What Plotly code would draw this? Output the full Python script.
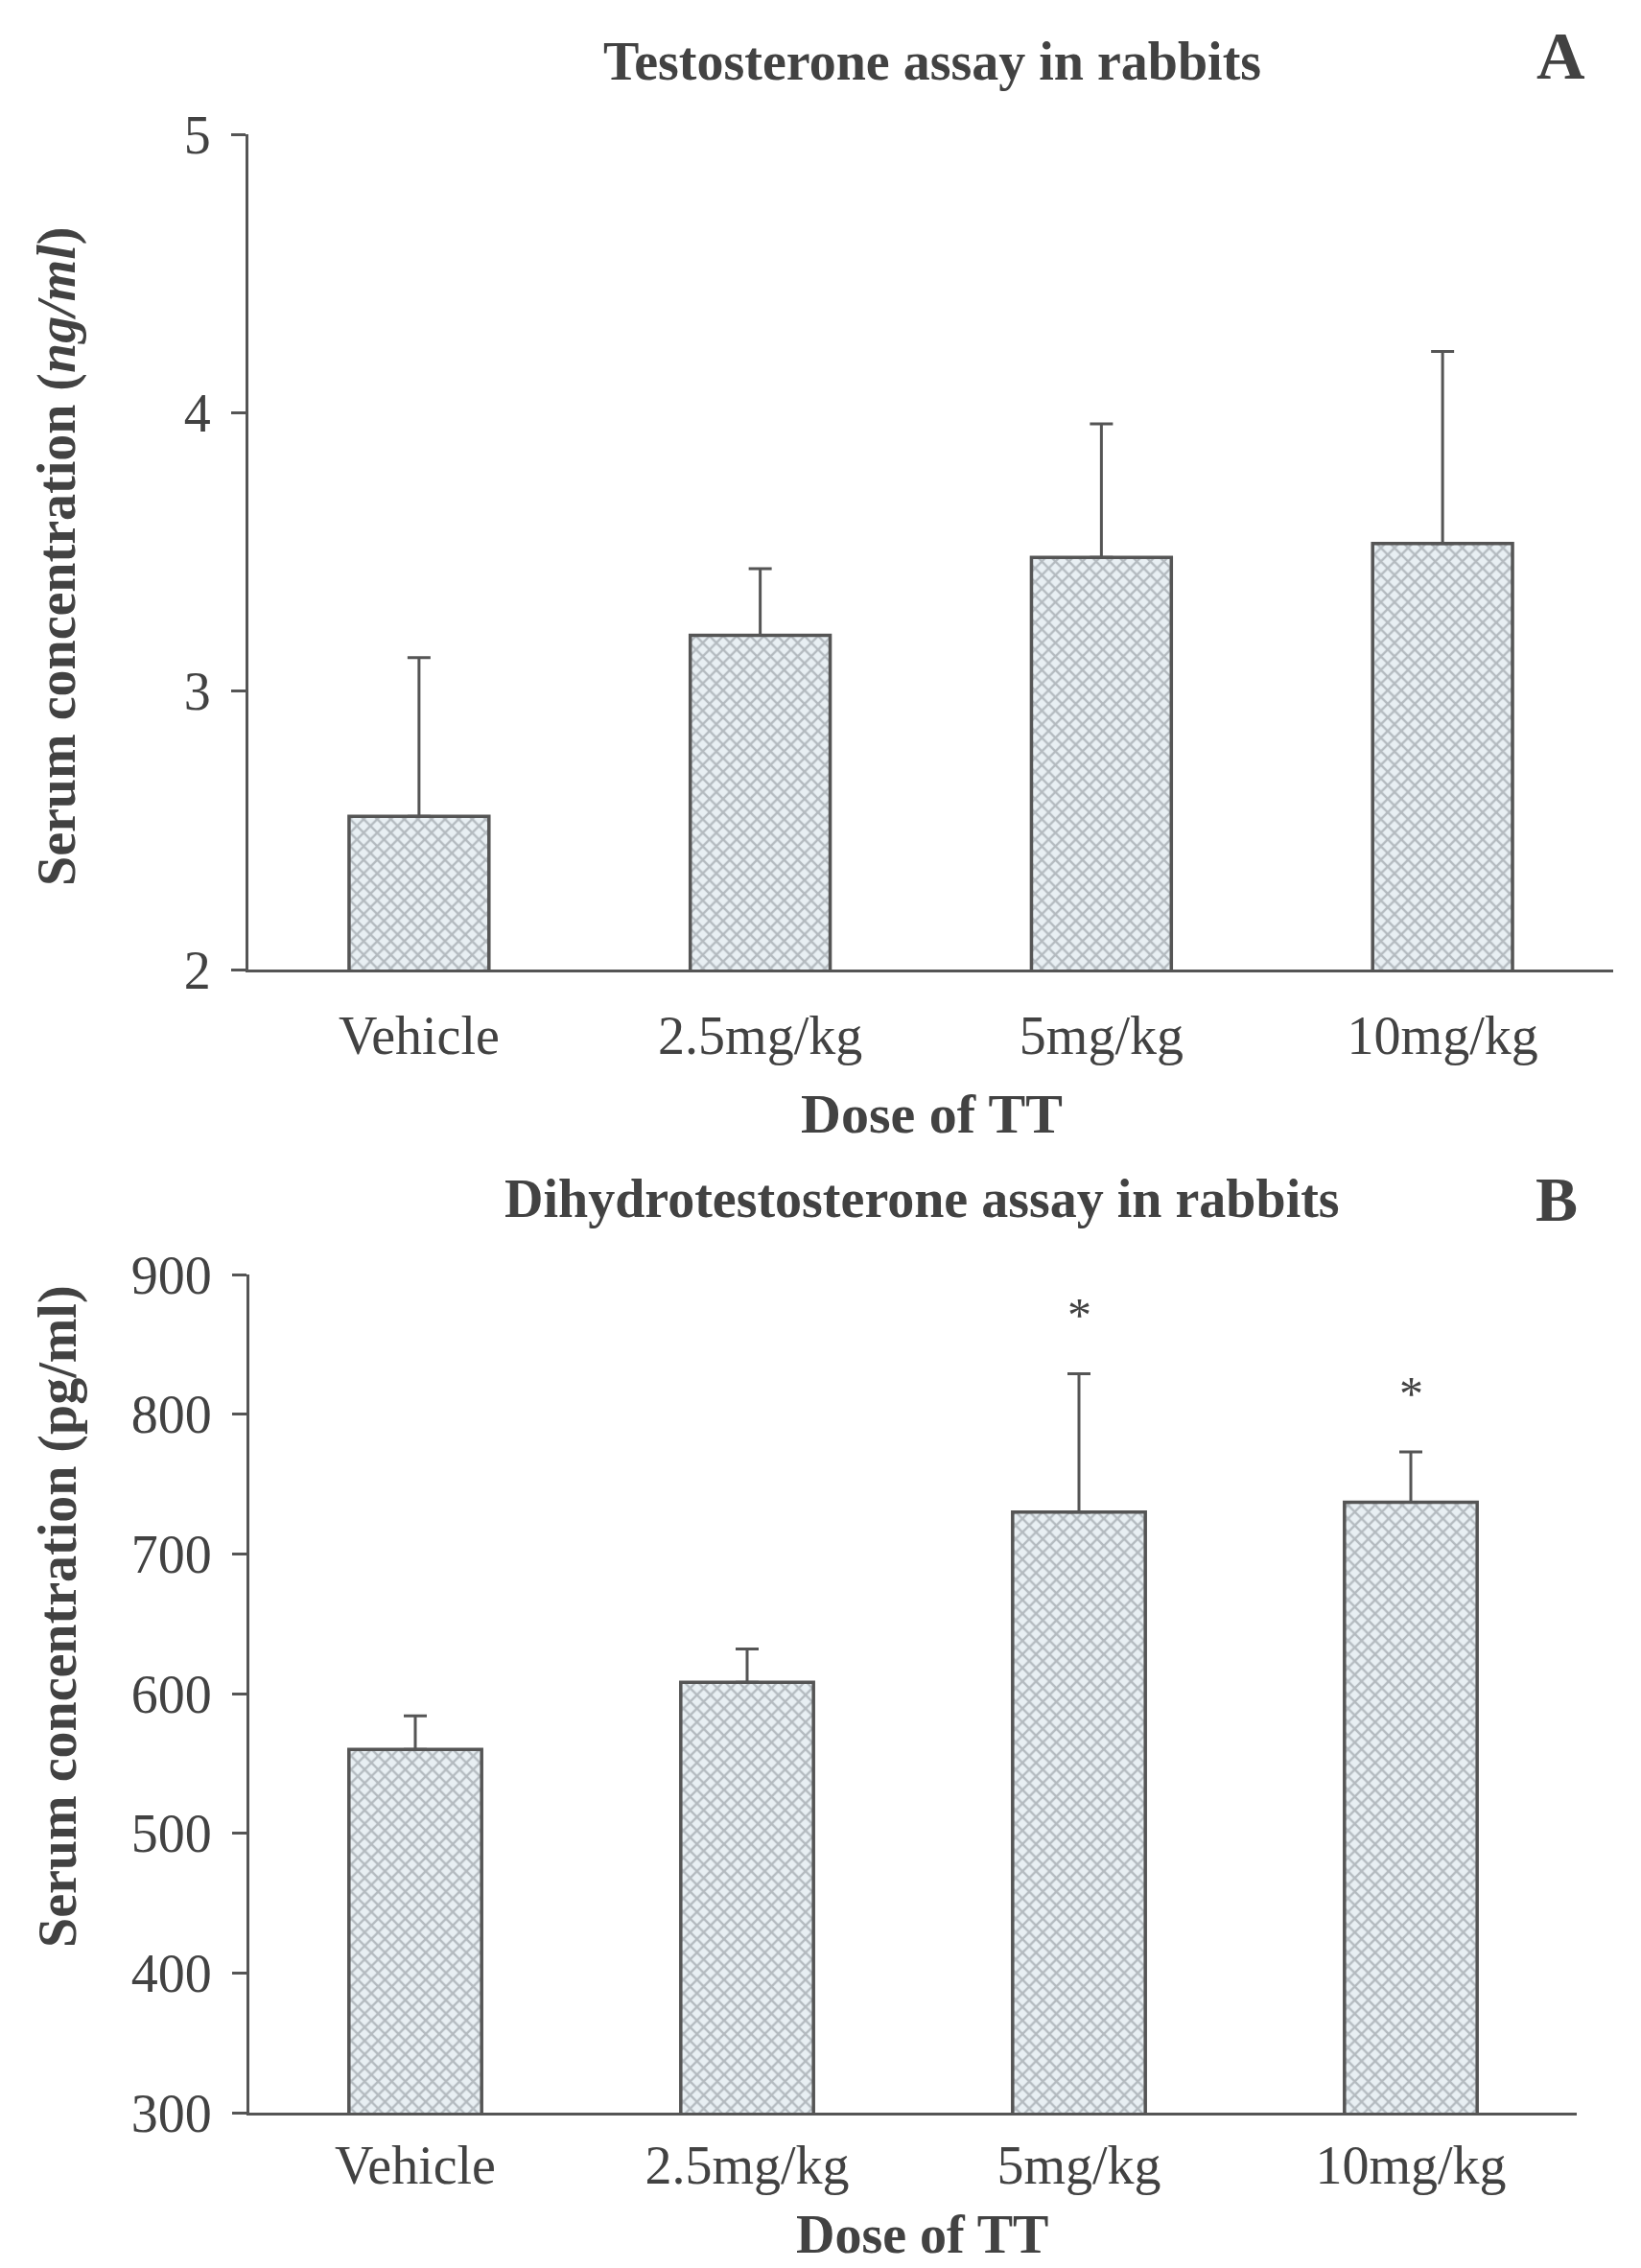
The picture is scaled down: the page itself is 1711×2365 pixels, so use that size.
import plotly.graph_objects as go

# ---- data ----
categories = ["Vehicle", "2.5mg/kg", "5mg/kg", "10mg/kg"]
testo_mean = [2.55, 3.20, 3.48, 3.53]
testo_err = [0.57, 0.24, 0.48, 0.69]
dht_mean = [560, 608, 730, 737]
dht_err = [24, 24, 99, 36]
dht_sig = [False, False, True, True]
testo_ticks = [2, 3, 4, 5]
dht_ticks = [300, 400, 500, 600, 700, 800, 900]

W, H = 1711, 2365
OFF = 8  # page body margin
FONT = "Liberation Serif, Times New Roman, serif"
INK = "#424242"
LINE = "#555555"

def px_x(p):
    return (p - OFF) / W

def px_y(p):
    return 1 - (p - OFF) / H

bar_style = dict(
    marker=dict(
        color="#e6edf1",
        line=dict(color=LINE, width=3.5),
        pattern=dict(shape="x", fgcolor="#7f868c", bgcolor="#e8eff3", size=10, solidity=0.42),
    ),
    showlegend=False,
)

fig = go.Figure()
fig.add_trace(go.Bar(
    x=categories, y=testo_mean, width=0.41, xaxis="x", yaxis="y",
    error_y=dict(type="data", array=testo_err, arrayminus=[0] * 4, symmetric=False,
                 color=LINE, thickness=3, width=12),
    **bar_style))
fig.add_trace(go.Bar(
    x=categories, y=dht_mean, width=0.40, xaxis="x2", yaxis="y2",
    error_y=dict(type="data", array=dht_err, arrayminus=[0] * 4, symmetric=False,
                 color=LINE, thickness=3, width=12),
    **bar_style))

# significance stars above the error bars
for c, m, e, s in zip(categories, dht_mean, dht_err, dht_sig):
    if s:
        fig.add_annotation(x=c, y=m + e + 42, xref="x2", yref="y2", text="*",
                           showarrow=False, font=dict(family=FONT, size=50, color=INK),
                           yanchor="middle")

axis_common = dict(
    showline=True, linecolor=LINE, linewidth=3, showgrid=False, zeroline=False,
    automargin=False,
    tickfont=dict(family=FONT, size=56, color=INK),
)

fig.update_layout(
    width=W, height=H,
    margin=dict(l=0, r=0, t=0, b=0, pad=0, autoexpand=False),
    paper_bgcolor="white", plot_bgcolor="white",
    bargap=0.5,
    xaxis=dict(domain=[px_x(259), px_x(1682)], range=[-0.5, 3.5], anchor="y",
               ticks="", ticklabelstandoff=18, **axis_common),
    yaxis=dict(domain=[px_y(1011), px_y(140)], range=[2, 5], anchor="x",
               tickvals=testo_ticks, ticks="outside", ticklen=15, tickwidth=3, tickcolor=LINE,
               ticklabelstandoff=10, **axis_common),
    xaxis2=dict(domain=[px_x(260), px_x(1644)], range=[-0.5, 3.5], anchor="y2",
                ticks="", ticklabelstandoff=4, **axis_common),
    yaxis2=dict(domain=[px_y(2203), px_y(1329)], range=[300, 900], anchor="x2",
                tickvals=dht_ticks, ticks="outside", ticklen=15, tickwidth=3, tickcolor=LINE,
                ticklabelstandoff=10, **axis_common),
)

def txt(x, y, s, size, angle=0):
    fig.add_annotation(x=px_x(x), y=px_y(y), xref="paper", yref="paper", text=s,
                       showarrow=False, textangle=angle, xanchor="center", yanchor="middle",
                       font=dict(family=FONT, size=size, color=INK))

txt(972, 64, "<b>Testosterone assay in rabbits</b>", 56)
txt(1627, 58, "<b>A</b>", 70)
txt(972, 1161, "<b>Dose of TT</b>", 58)
txt(60, 580, "<b>Serum concentration (<i>ng/ml</i>)</b>", 56, -90)

txt(961, 1250, "<b>Dihydrotestosterone assay in rabbits</b>", 56)
txt(1623, 1250, "<b>B</b>", 66)
txt(961, 2330, "<b>Dose of TT</b>", 56)
txt(60, 1686, "<b>Serum concentration (pg/ml)</b>", 56, -90)

fig.write_html("out.html")
